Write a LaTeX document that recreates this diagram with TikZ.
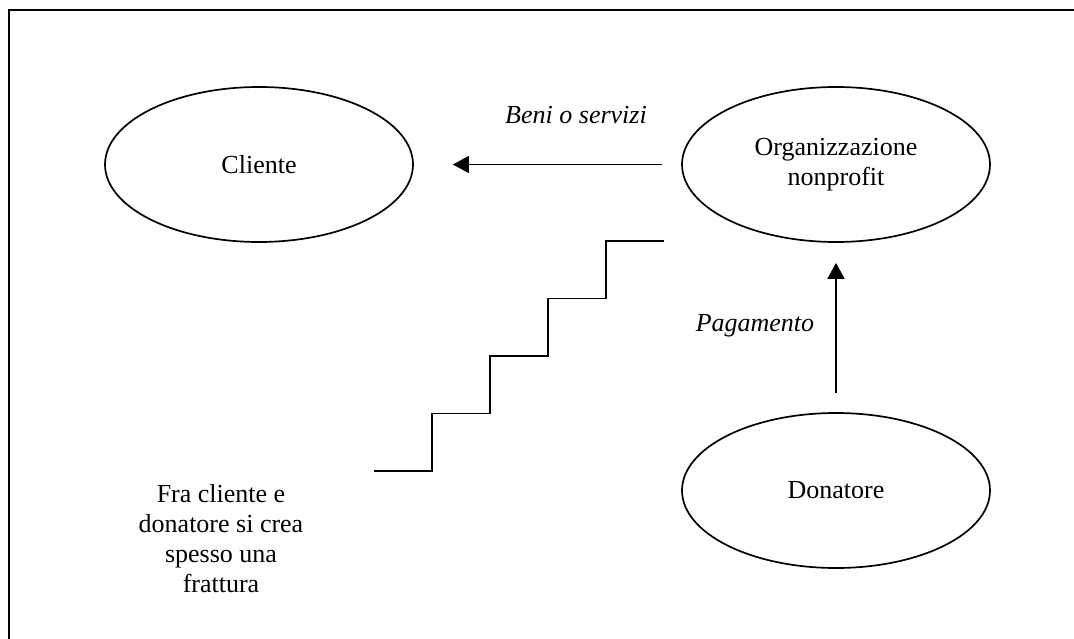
\documentclass[tikz,border=0pt]{standalone}
\usepackage{fontspec}
\setmainfont{Liberation Serif}
\usepackage{tikz}
\usetikzlibrary{shapes.geometric, arrows.meta}
\tikzstyle{arrow} = [line width=1.3pt,-{Triangle[length=16pt,width=17pt]}]
\tikzstyle{blob} = [ellipse, draw, line width=1.7pt, minimum width=308pt, minimum height=155pt, inner sep=0pt, align=center]

\begin{document}
\begin{tikzpicture}[x=1pt, y=-1pt, font=\fontsize{26}{30}\selectfont]
	\useasboundingbox (0,0) rectangle (1074,639);
	\draw [line width=1.8pt] (1074,10) -- (9,10) -- (9,639);
	\node[blob] (cli) at (259,164.5) {Cliente};
	\node[blob] (org) at (836,164.5) {Organizzazione\\nonprofit};
	\node[blob] (don) at (836,490.5) {Donatore};
	\draw [arrow, shorten <=19pt, shorten >=39pt] (org.west) -- (cli.east);
	\draw [arrow, shorten <=19pt, shorten >=20pt] (don.north) -- (org.south);
	\node (beni) at (576,115) {\itshape Beni o servizi};
	\node (pag) at (755,326) {\itshape Pagamento};
	\draw [line width=1.8pt] (374,471) -- ++(58,0) -- ++(0,-57.5) -- ++(58,0) -- ++(0,-57.5)
		-- ++(58,0) -- ++(0,-57.5) -- ++(58,0) -- ++(0,-57.5) -- ++(58,0);
	\node[align=center] (frattura) at (221,539) {Fra cliente e\\donatore si crea\\spesso una\\frattura};
\end{tikzpicture}
\end{document}
